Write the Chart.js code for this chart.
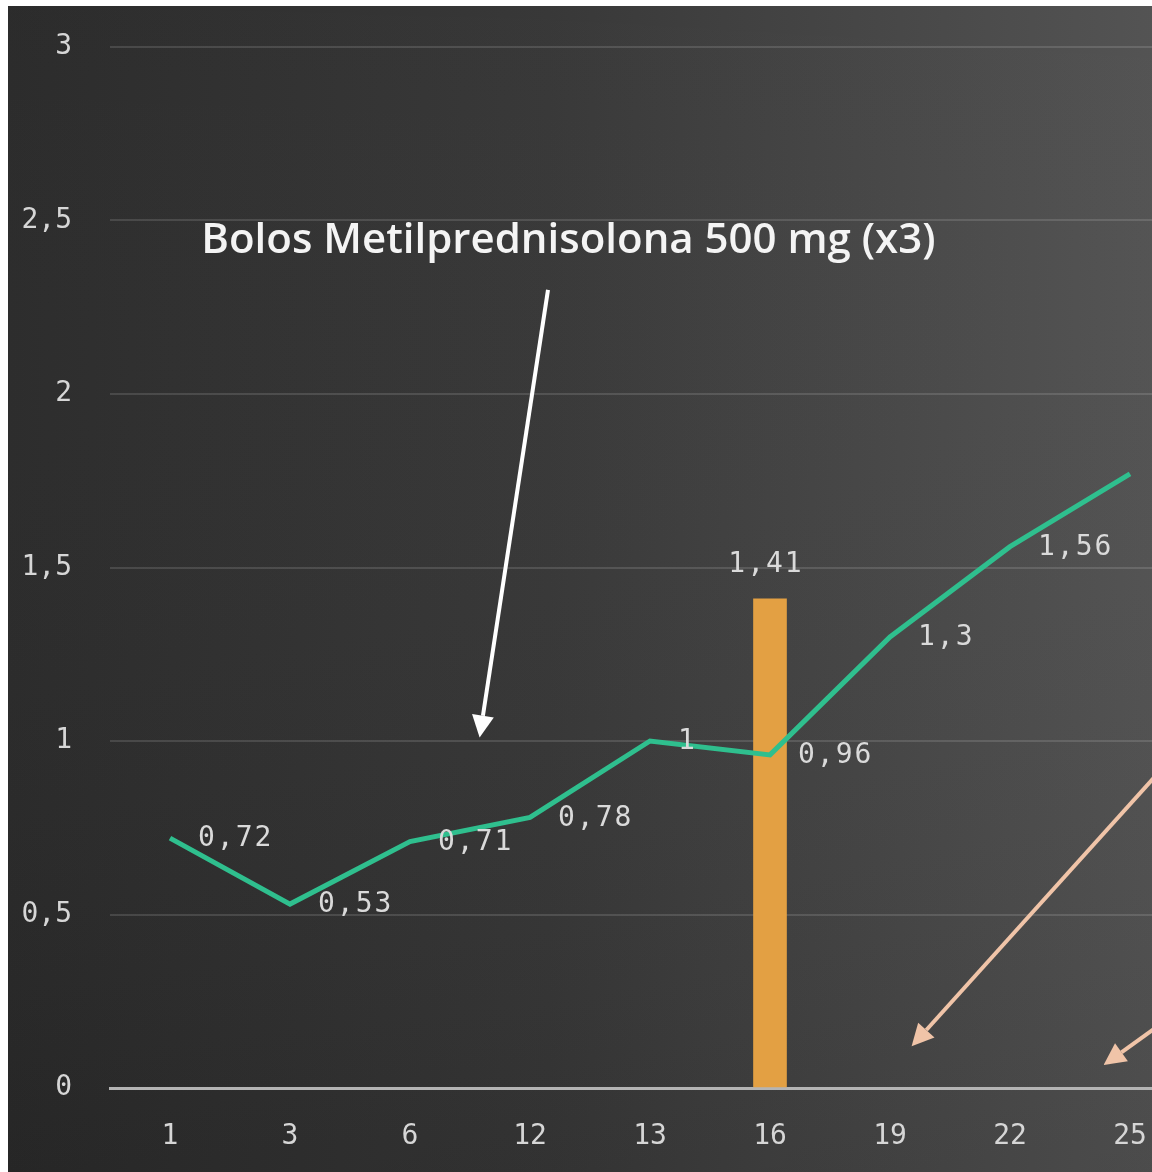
<!DOCTYPE html>
<html lang="es">
<head>
<meta charset="utf-8">
<title>Evolución</title>
<script src="https://cdn.jsdelivr.net/npm/chart.js@4.4.1/dist/chart.umd.min.js"></script>
<style>
  html, body { margin: 0; padding: 0; background: #fff; overflow: hidden; }
  #wrap { position: absolute; left: 8px; top: 6px; width: 1200px; height: 1166px; }
</style>
</head>
<body>
<div id="wrap"><canvas id="grafico"></canvas></div>
<script>
// datos
const dias = ['1', '3', '6', '12', '13', '16', '19', '22', '25'];
const valoresLinea = [0.72, 0.53, 0.71, 0.78, 1, 0.96, 1.3, 1.56, 1.77];
const valoresBarra = [null, null, null, null, null, 1.41, null, null, null];
const textoBolos = 'Bolos Metilprednisolona 500 mg (x3)';

const fmt = (v) => String(v).replace('.', ',');
const fuenteNum = '"DejaVu Sans Mono", monospace';

// fondo oscuro con degradado
const fondo = {
    id: 'fondo',
    beforeDraw(chart) {
        const { ctx, width, height } = chart;
        ctx.save();
        const g = ctx.createLinearGradient(0, 0, width, 0);
        g.addColorStop(0, '#292929');
        g.addColorStop(0.45, '#363636');
        g.addColorStop(1, '#545454');
        ctx.fillStyle = g;
        ctx.fillRect(0, 0, width, height);
        const v = ctx.createLinearGradient(0, 0, 0, height);
        v.addColorStop(0, 'rgba(255,255,255,0.01)');
        v.addColorStop(1, 'rgba(0,0,0,0.07)');
        ctx.fillStyle = v;
        ctx.fillRect(0, 0, width, height);
        ctx.restore();
    }
};

// valores junto a cada punto y sobre la barra
const etiquetas = {
    id: 'etiquetas',
    afterDatasetsDraw(chart) {
        const ctx = chart.ctx;
        ctx.save();
        ctx.font = '28px ' + fuenteNum;
        ctx.letterSpacing = '2px';
        ctx.fillStyle = '#dadada';
        ctx.textBaseline = 'middle';

        ctx.textAlign = 'left';
        chart.getDatasetMeta(1).data.forEach((p, i) => {
            ctx.fillText(fmt(valoresLinea[i]), p.x + 28, p.y + 1);
        });

        ctx.textAlign = 'center';
        chart.getDatasetMeta(0).data.forEach((b, i) => {
            if (valoresBarra[i] == null) return;
            ctx.fillText(fmt(valoresBarra[i]), b.x - 4, b.y - 34);
        });
        ctx.restore();
    }
};

function flecha(ctx, x1, y1, x2, y2, color, ancho, cabeza) {
    const ang = Math.atan2(y2 - y1, x2 - x1);
    const bx = x2 - Math.cos(ang) * cabeza;
    const by = y2 - Math.sin(ang) * cabeza;
    ctx.strokeStyle = color;
    ctx.fillStyle = color;
    ctx.lineWidth = ancho;
    ctx.beginPath();
    ctx.moveTo(x1, y1);
    ctx.lineTo(bx, by);
    ctx.stroke();
    ctx.beginPath();
    ctx.moveTo(x2, y2);
    ctx.lineTo(bx + Math.cos(ang + Math.PI / 2) * cabeza * 0.5, by + Math.sin(ang + Math.PI / 2) * cabeza * 0.5);
    ctx.lineTo(bx + Math.cos(ang - Math.PI / 2) * cabeza * 0.5, by + Math.sin(ang - Math.PI / 2) * cabeza * 0.5);
    ctx.closePath();
    ctx.fill();
}

// texto de los bolos y flechas
const anotaciones = {
    id: 'anotaciones',
    afterDraw(chart) {
        const { ctx } = chart;
        const sx = chart.scales.x, sy = chart.scales.y;
        const px = (i) => sx.getPixelForValue(i);
        const py = (v) => sy.getPixelForValue(v);
        ctx.save();
        ctx.font = '600 42px "Open Sans", sans-serif';
        ctx.fillStyle = '#f4f4f4';
        ctx.textAlign = 'center';
        ctx.textBaseline = 'middle';
        ctx.fillText(textoBolos, px(3.32), py(2.44));

        flecha(ctx, px(3.15), py(2.30), px(2.58), py(1.01), '#ffffff', 4, 22);
        flecha(ctx, px(8.58), py(1.04), px(6.18), py(0.12), '#f0c4a8', 4, 22);
        flecha(ctx, px(8.58), py(0.265), px(7.78), py(0.066), '#f0c4a8', 4, 22);
        ctx.restore();
    }
};

const ctx = document.getElementById('grafico');

new Chart(ctx, {
    data: {
        labels: dias,
        datasets: [{
            type: 'bar',
            data: valoresBarra,
            order: 2,
            barThickness: 33,
            backgroundColor: (c) => {
                const el = c.element;
                if (!el || !el.x) return '#e3a043';
                const g = c.chart.ctx.createLinearGradient(el.x - 17, 0, el.x + 17, 0);
                g.addColorStop(0, '#d48c2e');
                g.addColorStop(0.5, '#efb25f');
                g.addColorStop(1, '#d48c2e');
                return g;
            }
        }, {
            type: 'line',
            data: valoresLinea,
            order: 1,
            borderColor: '#2fbf8e',
            borderWidth: 5,
            pointRadius: 0,
            tension: 0
        }]
    },
    options: {
        responsive: true,
        maintainAspectRatio: false,
        animation: false,
        layout: { padding: { left: 0, top: 41, right: 18, bottom: 0 } },
        plugins: {
            legend: { display: false },
            tooltip: { enabled: false }
        },
        scales: {
            x: {
                offset: true,
                grid: { display: false, drawTicks: false },
                border: { display: true, color: '#b4b4b4', width: 3 },
                ticks: {
                    color: '#d6d6d6',
                    font: { family: fuenteNum, size: 28 },
                    padding: 32,
                    maxRotation: 0
                },
                afterFit: (s) => { s.height = 84; }
            },
            y: {
                min: 0,
                max: 3,
                ticks: {
                    stepSize: 0.5,
                    color: '#d6d6d6',
                    font: { family: fuenteNum, size: 28 },
                    padding: 38,
                    callback: (v) => fmt(v)
                },
                grid: {
                    drawTicks: false,
                    lineWidth: 2,
                    color: (c) => c.tick.value === 0 ? 'rgba(0,0,0,0)' : 'rgba(255,255,255,0.13)'
                },
                border: { display: false },
                // ancho fijo del eje y sin reservar hueco extra arriba
                afterFit: (s) => { s.width = 102; s.paddingTop = 0; s.paddingBottom = 0; }
            }
        }
    },
    plugins: [fondo, etiquetas, anotaciones]
});
</script>
</body>
</html>
